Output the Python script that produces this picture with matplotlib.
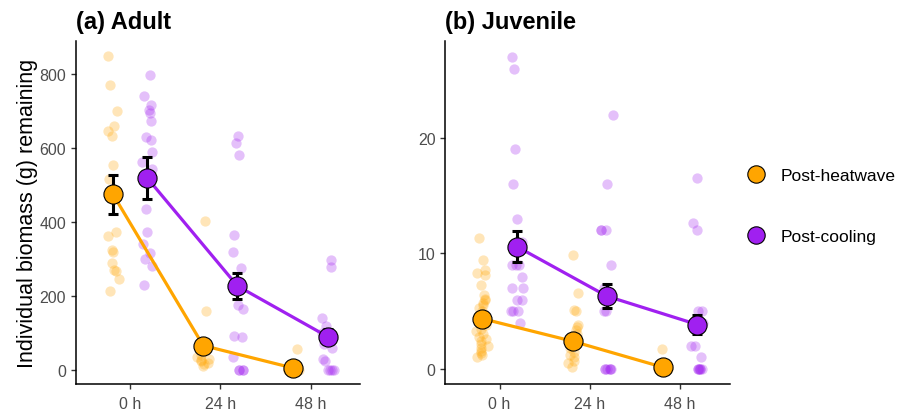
import numpy as np
import matplotlib
matplotlib.use("Agg")
import matplotlib.pyplot as plt
from matplotlib.lines import Line2D

plt.rcParams['font.family'] = ['Liberation Sans', 'DejaVu Sans']

times = ["0 h", "24 h", "48 h"]
groups = ["Post-heatwave", "Post-cooling"]
colors = {"Post-heatwave": "#FFA500", "Post-cooling": "#A020F0"}

# raw values, adult (g)
adult_heat = [
    [848, 771, 699, 659, 647, 633, 555, 516, 374, 361, 325, 320, 288, 270, 267, 246, 213],
    [402, 159, 40, 35, 30, 28, 25, 20, 15, 12],
    [58, 0, 0, 0, 0, 0, 0, 0, 0, 0, 0],
]
adult_cool = [
    [797, 740, 717, 703, 696, 673, 631, 623, 590, 563, 543, 435, 374, 341, 315, 300, 282, 230],
    [632, 615, 581, 365, 320, 275, 230, 175, 165, 93, 90, 35, 0, 0, 0, 0],
    [298, 279, 141, 120, 100, 85, 70, 60, 30, 25, 0, 0, 0, 0],
]
# raw values, juvenile (g)
juv_heat = [
    [11.3, 9.4, 8.6, 8.3, 8.1, 7.3, 6.4, 6.1, 6.0, 5.7, 5.5, 5.3, 5.0, 4.6, 4.2,
     4.0, 3.8, 3.5, 3.3, 3.0, 2.8, 2.6, 2.4, 2.2, 2.0, 1.8, 1.6, 1.4, 1.2, 1.0],
    [9.9, 6.6, 5.1, 5.0, 3.8, 3.6, 3.4, 3.0, 2.7, 2.4, 2.2, 2.0, 1.8, 1.5, 1.2, 1.0, 0.7, 0.5, 0.2],
    [1.7, 0, 0, 0, 0, 0, 0, 0, 0, 0, 0],
]
juv_cool = [
    [27, 26, 19, 16, 13, 11, 9, 9, 9, 8, 7, 7, 6, 6, 5, 5, 5, 4],
    [22, 16, 12, 12, 12, 9, 7, 6, 5, 5, 0, 0, 0, 0, 0, 0],
    [16.5, 12.6, 12.0, 5.0, 5.0, 4.0, 2.0, 2.0, 1.0, 0, 0, 0, 0, 0, 0],
]

# means and standard errors
adult_heat_mean = [475, 66, 5]
adult_heat_se = [52, 0, 0]
adult_cool_mean = [519, 227, 90]
adult_cool_se = [57, 35, 20]
juv_heat_mean = [4.35, 2.4, 0.15]
juv_heat_se = [0.35, 0.45, 0]
juv_cool_mean = [10.6, 6.3, 3.85]
juv_cool_se = [1.35, 1.05, 0.85]

fig = plt.figure(figsize=(9.11, 4.14), dpi=100)
ax_a = fig.add_axes([0.0834, 0.070, 0.312, 0.829])
ax_b = fig.add_axes([0.489, 0.070, 0.312, 0.829])

rng = np.random.default_rng(3)
dodge = 0.19
xpos = np.arange(1, len(times) + 1)


def draw_panel(ax, raw_h, raw_c, m_h, se_h, m_c, se_c, title, ylim, yticks):
    for grp, raw, m, se, off in [("Post-heatwave", raw_h, m_h, se_h, -dodge),
                                 ("Post-cooling", raw_c, m_c, se_c, dodge)]:
        c = colors[grp]
        for i, vals in enumerate(raw):
            vals = np.array(vals, dtype=float)
            jit = rng.uniform(-0.07, 0.07, len(vals))
            ax.scatter(xpos[i] + off + jit, vals, s=55, color=c, alpha=0.28,
                       linewidths=0, zorder=1)
        ax.plot(xpos + off, m, color=c, lw=2.3, zorder=2)
        ax.errorbar(xpos + off, m, yerr=se, fmt='none', ecolor='black',
                    elinewidth=2.2, capsize=3.5, capthick=2.2, zorder=3)
        ax.scatter(xpos + off, m, s=190, color=c, edgecolors='black',
                   linewidths=0.8, zorder=4)
    ax.set_xlim(0.4, 3.55)
    ax.set_ylim(*ylim)
    ax.set_xticks(xpos)
    ax.set_xticklabels(times)
    ax.set_yticks(yticks)
    for s in ['top', 'right']:
        ax.spines[s].set_visible(False)
    for s in ['left', 'bottom']:
        ax.spines[s].set_linewidth(1.1)
    ax.tick_params(axis='both', labelsize=11.5, labelcolor='#4D4D4D',
                   length=3.6, width=1.0, color='#333333')
    ax.tick_params(axis='x', pad=5)
    ax.set_title(title, loc='left', fontsize=17, fontweight='bold', pad=9)


draw_panel(ax_a, adult_heat, adult_cool, adult_heat_mean, adult_heat_se,
           adult_cool_mean, adult_cool_se, "(a) Adult", (-38, 890),
           [0, 200, 400, 600, 800])
draw_panel(ax_b, juv_heat, juv_cool, juv_heat_mean, juv_heat_se,
           juv_cool_mean, juv_cool_se, "(b) Juvenile", (-1.3, 28.4),
           [0, 10, 20])
ax_a.set_ylabel("Individual biomass (g) remaining", fontsize=15.5, labelpad=1)

handles = [Line2D([], [], marker='o', ls='none', markersize=12.5,
                  markerfacecolor=colors[g], markeredgecolor='black',
                  markeredgewidth=0.8, label=g) for g in groups]
fig.legend(handles=handles, loc='center left', bbox_to_anchor=(0.803, 0.5),
           frameon=False, fontsize=12.5, labelspacing=2.6, handletextpad=0.45,
           borderaxespad=0)

fig.savefig("out.png", dpi=100)
